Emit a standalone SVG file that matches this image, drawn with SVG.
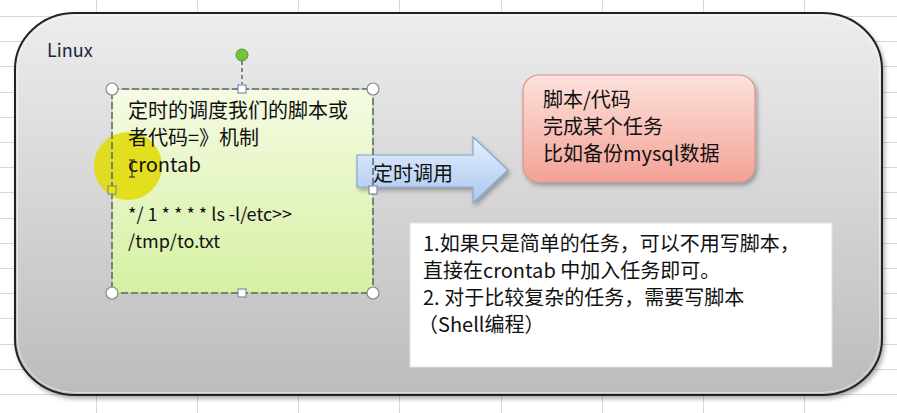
<svg xmlns="http://www.w3.org/2000/svg" width="897" height="413" viewBox="0 0 897 413">
<defs>
<style>
.t{font-family:"Noto Sans CJK SC","Liberation Sans",sans-serif;font-size:20px;fill:#111}
.s{font-size:18px}
.grid line{stroke:#d8d8d8;stroke-width:1}
.hc{fill:#fff;stroke:#8a8a8a;stroke-width:1.2}
.hs{fill:#fff;stroke:#7b8ea3;stroke-width:1.2}
</style>
<linearGradient id="gGray" x1="0" y1="0" x2="0" y2="1"><stop offset="0" stop-color="#ededed"/><stop offset="1" stop-color="#bcbcbc"/></linearGradient>
<linearGradient id="gGreen" x1="0" y1="0" x2="0" y2="1"><stop offset="0" stop-color="#f5fbe3"/><stop offset="1" stop-color="#d6f0a2"/></linearGradient>
<linearGradient id="gBlue" x1="0" y1="0" x2="0" y2="1"><stop offset="0" stop-color="#e6f0fd"/><stop offset="1" stop-color="#a9c7ef"/></linearGradient>
<linearGradient id="gRed" x1="0" y1="0" x2="0" y2="1"><stop offset="0" stop-color="#fde2dc"/><stop offset="1" stop-color="#f3a296"/></linearGradient>
<filter id="sh" x="-10%" y="-10%" width="125%" height="130%"><feDropShadow dx="2" dy="3" stdDeviation="2" flood-color="#000" flood-opacity="0.3"/></filter>
</defs>
<rect width="897" height="413" fill="#fff"/>
<g class="grid">
<line x1="96.5" y1="0" x2="96.5" y2="413"/><line x1="197.5" y1="0" x2="197.5" y2="413"/><line x1="298.5" y1="0" x2="298.5" y2="413"/><line x1="399.5" y1="0" x2="399.5" y2="413"/><line x1="501.5" y1="0" x2="501.5" y2="413"/><line x1="602.5" y1="0" x2="602.5" y2="413"/><line x1="703.5" y1="0" x2="703.5" y2="413"/><line x1="804.5" y1="0" x2="804.5" y2="413"/>
<line x1="0" y1="16.5" x2="897" y2="16.5"/><line x1="0" y1="41.5" x2="897" y2="41.5"/><line x1="0" y1="66.5" x2="897" y2="66.5"/><line x1="0" y1="92.5" x2="897" y2="92.5"/><line x1="0" y1="117.5" x2="897" y2="117.5"/><line x1="0" y1="142.5" x2="897" y2="142.5"/><line x1="0" y1="167.5" x2="897" y2="167.5"/><line x1="0" y1="192.5" x2="897" y2="192.5"/><line x1="0" y1="218.5" x2="897" y2="218.5"/><line x1="0" y1="243.5" x2="897" y2="243.5"/><line x1="0" y1="268.5" x2="897" y2="268.5"/><line x1="0" y1="293.5" x2="897" y2="293.5"/><line x1="0" y1="318.5" x2="897" y2="318.5"/><line x1="0" y1="344.5" x2="897" y2="344.5"/><line x1="0" y1="369.5" x2="897" y2="369.5"/><line x1="0" y1="394.5" x2="897" y2="394.5"/>
</g>
<g id="linux">
<rect x="15" y="13" width="867" height="382" rx="60" ry="56" fill="url(#gGray)" stroke="#222" stroke-width="2" filter="url(#sh)"/>
<rect x="17.5" y="15.5" width="862" height="377" rx="58" ry="54" fill="none" stroke="#fff" stroke-opacity="0.5" stroke-width="1"/>
<text class="t" x="47" y="57" style="font-size:18px;fill:#1c2440">Linux</text>
</g>
<g id="cron-box">
<rect x="112" y="89" width="261" height="204" fill="url(#gGreen)" stroke="#b5c77c" stroke-width="1"/>
<circle cx="128" cy="166" r="34" fill="#e2da00" fill-opacity="0.85"/>
<text class="t" x="128" y="118">定时的调度我们的脚本或</text>
<text class="t" x="128" y="145">者代码=》机制</text>
<text class="t" x="128" y="172">crontab</text>
<path d="M129,160 h6 M132,160 v17 M129,177 h6" fill="none" stroke="#222" stroke-width="1"/>
<text class="t s" x="128" y="221">*/ 1 * * * * ls -l/etc&gt;&gt;</text>
<text class="t s" x="128" y="248">/tmp/to.txt</text>
</g>
<g id="connectors">
<path d="M357,155 H473 V137 L508,170 L473,203 V187 H357 Z" fill="url(#gBlue)" stroke="#85a5d3" stroke-width="1.2" filter="url(#sh)"/>
<text class="t" x="373" y="181">定时调用</text>
</g>
<g id="selection">
<rect x="112" y="89" width="261" height="204" fill="none" stroke="#56687a" stroke-width="1.5" stroke-dasharray="7 3"/>
<line x1="242" y1="61" x2="242" y2="84" stroke="#56687a" stroke-width="1.5" stroke-dasharray="4 3"/>
<circle cx="242" cy="55" r="6" fill="#72c43a" stroke="#4e9a2a" stroke-width="1"/>
<circle class="hc" cx="112" cy="89" r="6"/>
<circle class="hc" cx="373" cy="89" r="6"/>
<circle class="hc" cx="112" cy="293" r="6"/>
<circle class="hc" cx="373" cy="293" r="6"/>
<rect class="hs" x="238" y="85" width="8" height="8"/>
<rect class="hs" x="238" y="289" width="8" height="8"/>
<rect class="hs" x="369" y="186" width="8" height="8"/>
<rect x="108" y="186" width="8" height="8" fill="#f2e400" stroke="#7b8ea3" stroke-width="1.2"/>
</g>
<g id="script-box">
<rect x="523" y="75" width="232" height="107" rx="16" fill="url(#gRed)" stroke="#d8958b" stroke-width="1.2" filter="url(#sh)"/>
<text class="t" x="543" y="107">脚本/代码</text>
<text class="t" x="543" y="134">完成某个任务</text>
<text class="t" x="543" y="161">比如备份mysql数据</text>
</g>
<g id="note-box">
<rect x="410" y="223" width="422" height="144" fill="#fff" stroke="#e2e2e2" stroke-width="1"/>
<text class="t" x="423" y="251">1.如果只是简单的任务，可以不用写脚本，</text>
<text class="t" x="423" y="278">直接在crontab 中加入任务即可。</text>
<text class="t" x="423" y="305">2. 对于比较复杂的任务，需要写脚本</text>
<text class="t" x="418" y="332">（Shell编程）</text>
</g>
</svg>
